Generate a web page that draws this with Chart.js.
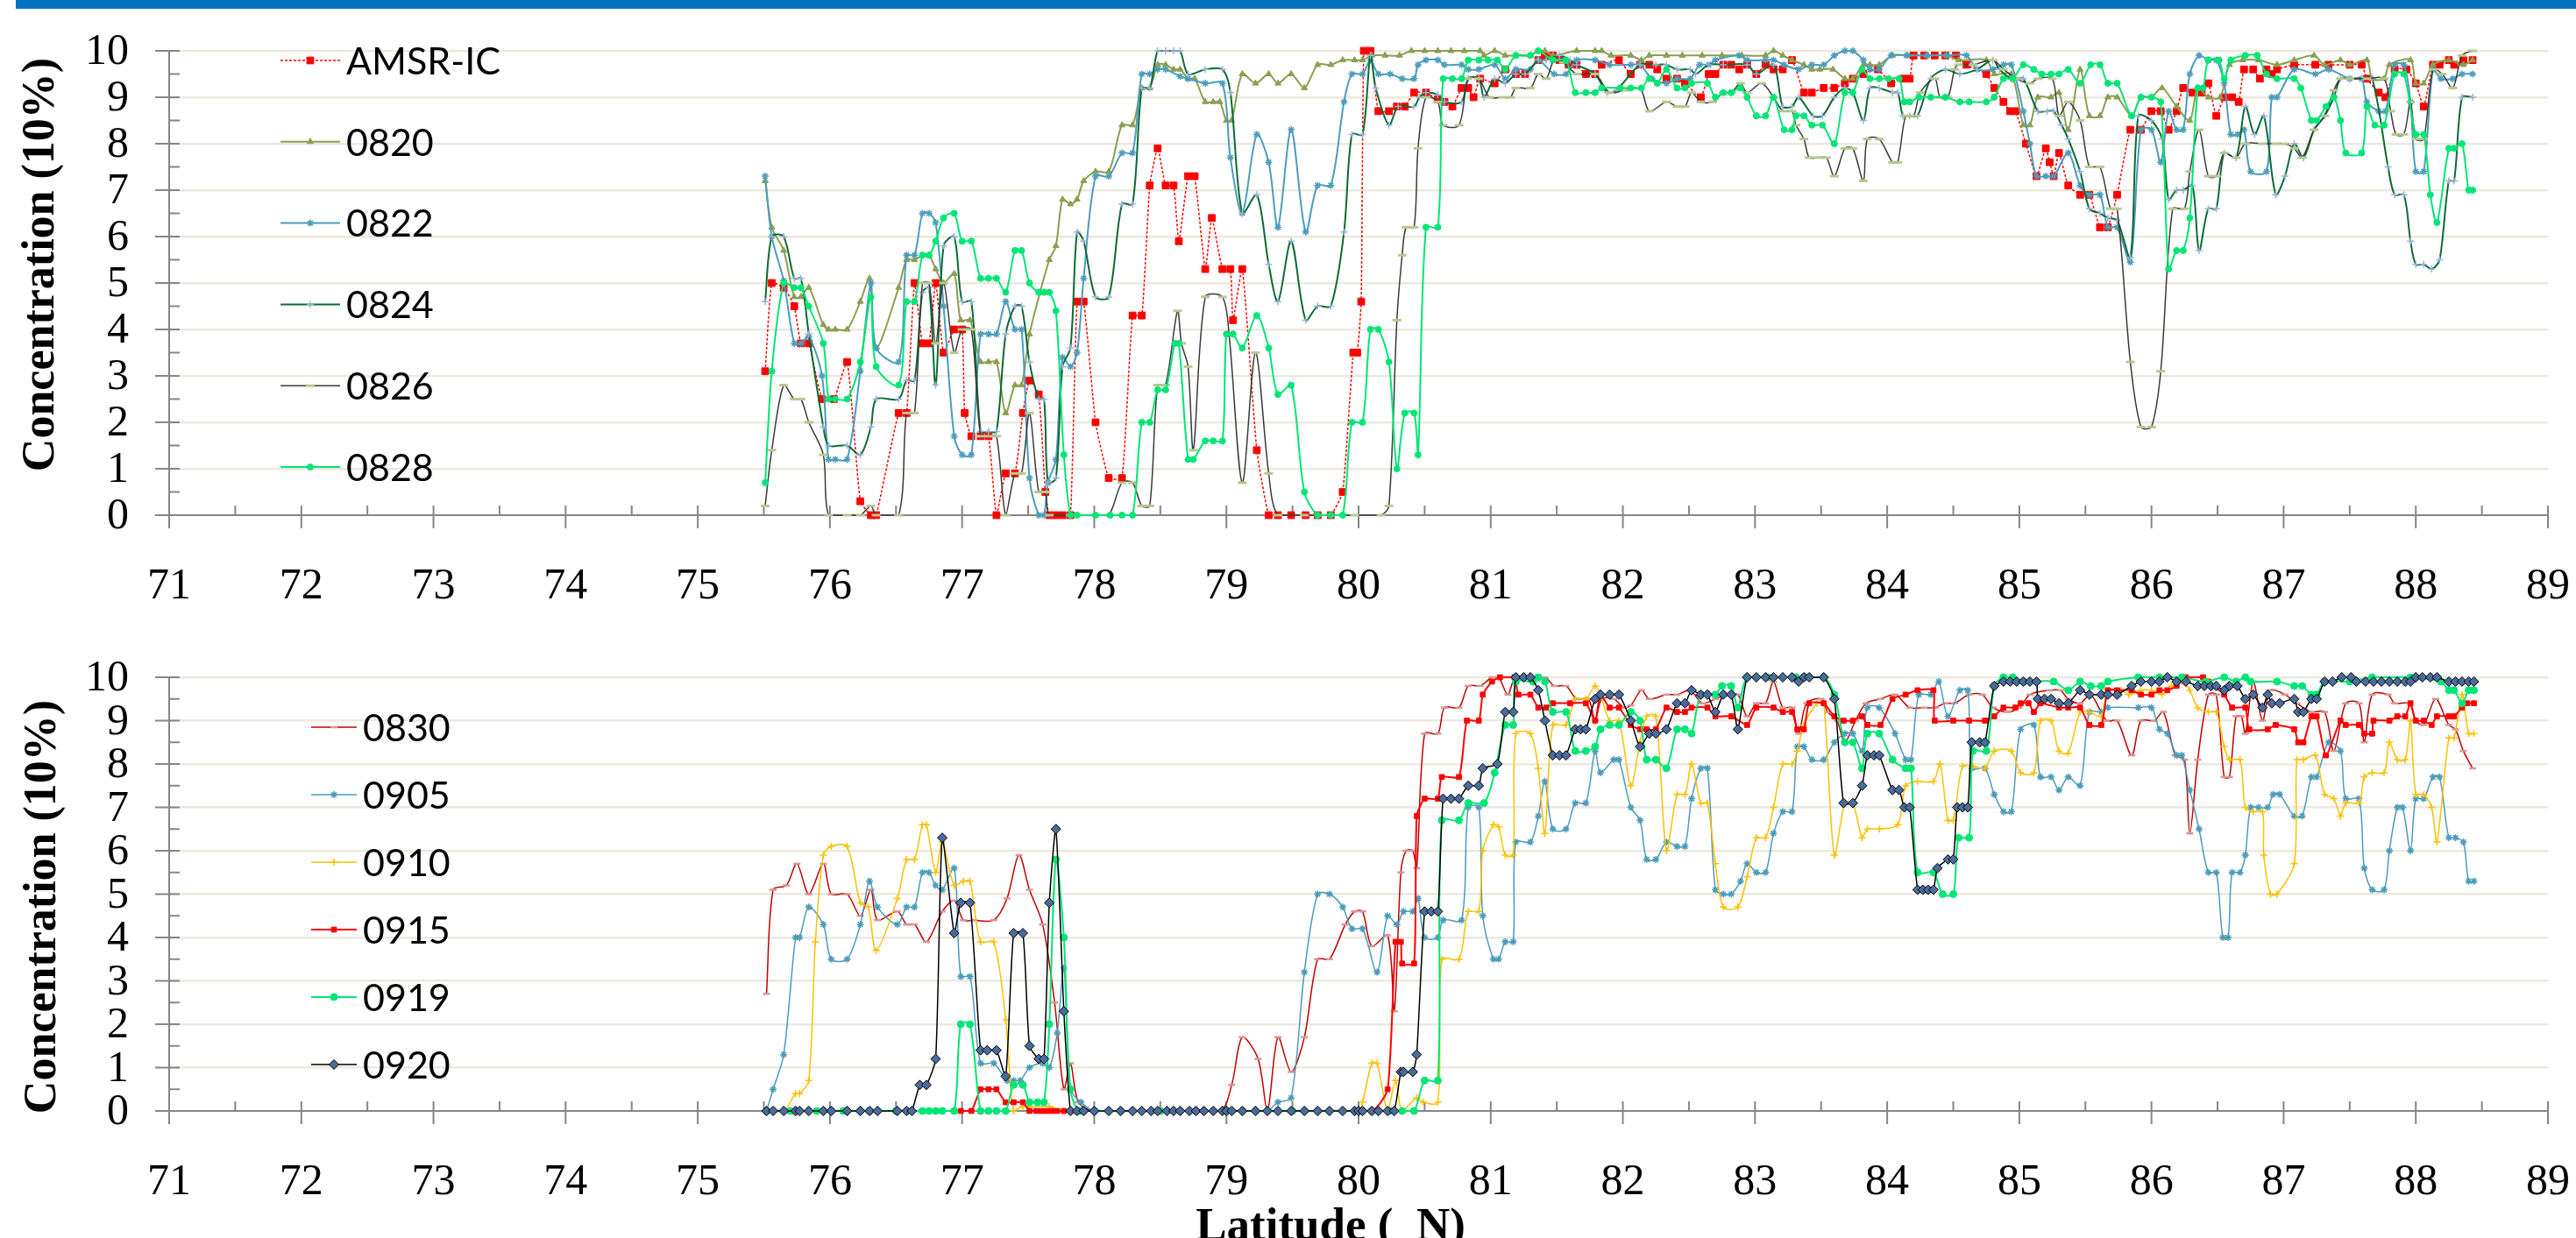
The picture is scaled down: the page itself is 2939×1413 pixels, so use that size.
<!DOCTYPE html>
<html>
<head>
<meta charset="utf-8">
<script src="https://cdn.jsdelivr.net/npm/chart.js@4.4.1/dist/chart.umd.min.js"></script>
<style>
html, body { margin: 0; padding: 0; background: #fff; }
body { width: 2939px; height: 1413px; position: relative; overflow: hidden; }
#bar { position: absolute; left: 18px; right: 0; top: 0; height: 10px; background: #0070C0; }
canvas { position: absolute; left: 0; }
#top { top: 0; }
#bottom { top: 720px; }
</style>
</head>
<body>
<div id="bar"></div>
<canvas id="top" width="2939" height="720"></canvas>
<canvas id="bottom" width="2939" height="693"></canvas>
<script>
// --- axis ticks ---
const latTicks = [71,72,73,74,75,76,77,78,79,80,81,82,83,84,85,86,87,88,89];
const concTicks = [0,1,2,3,4,5,6,7,8,9,10];

// --- top panel series: [latitude, concentration] ---
const topNames = ['AMSR-IC', '0820', '0822', '0824', '0826', '0828'];

const amsrIC = [[75.51,3.1],[75.56,5.0],[75.65,4.9],[75.73,4.5],[75.78,3.7],[75.84,3.7],[75.94,2.5],[76.03,2.5],[76.13,3.3],[76.23,0.3],[76.31,0],[76.35,0],[76.52,2.2],[76.58,2.2],[76.64,5.0],[76.70,3.7],[76.75,3.7],[76.80,5.0],[76.86,3.5],[76.94,4.0],[77.00,4.0],[77.02,2.2],[77.07,1.7],[77.14,1.7],[77.20,1.7],[77.26,0],[77.33,0.9],[77.40,0.9],[77.46,2.2],[77.51,2.9],[77.58,2.6],[77.63,0.5],[77.66,0],[77.71,0],[77.76,0],[77.82,0],[77.87,4.6],[77.92,4.6],[78.01,2.0],[78.11,0.8],[78.21,0.8],[78.29,4.3],[78.36,4.3],[78.42,7.1],[78.48,7.9],[78.54,7.1],[78.60,7.1],[78.64,5.9],[78.71,7.3],[78.76,7.3],[78.84,5.3],[78.89,6.4],[78.97,5.3],[79.03,5.3],[79.05,4.2],[79.12,5.3],[79.23,1.4],[79.32,0],[79.39,0],[79.49,0],[79.60,0],[79.69,0],[79.79,0],[79.88,0.5],[79.96,3.5],[79.99,3.5],[80.02,4.6],[80.04,10],[80.09,10],[80.15,8.7],[80.23,8.7],[80.29,8.8],[80.35,8.8],[80.42,9.1],[80.51,9.1],[80.60,8.95],[80.65,8.9],[80.71,8.8],[80.78,9.2],[80.83,9.2],[80.87,9.0],[80.92,9.4],[81.03,9.3],[81.11,9.6],[81.19,9.5],[81.26,9.5],[81.36,9.8],[81.41,9.9],[81.47,9.9],[81.52,9.8],[81.59,9.7],[81.65,9.7],[81.72,9.5],[81.79,9.5],[81.84,9.7],[81.97,9.8],[82.06,9.5],[82.13,9.7],[82.20,9.7],[82.26,9.6],[82.33,9.4],[82.41,9.4],[82.47,9.3],[82.59,9.0],[82.65,9.5],[82.70,9.5],[82.76,9.7],[82.82,9.7],[82.88,9.6],[82.94,9.7],[83.01,9.5],[83.08,9.7],[83.14,9.6],[83.21,9.6],[83.28,9.8],[83.37,9.1],[83.43,9.1],[83.52,9.2],[83.60,9.2],[83.68,9.3],[83.74,9.4],[83.82,9.5],[83.93,9.6],[84.03,9.3],[84.12,9.4],[84.17,9.4],[84.20,9.9],[84.28,9.9],[84.36,9.9],[84.44,9.9],[84.52,9.9],[84.60,9.7],[84.75,9.5],[84.81,9.2],[84.88,8.9],[84.93,8.7],[84.97,8.7],[85.05,8.0],[85.13,7.3],[85.20,7.9],[85.23,7.6],[85.26,7.3],[85.30,7.8],[85.37,7.1],[85.46,6.9],[85.53,6.9],[85.61,6.2],[85.67,6.2],[85.74,6.9],[85.84,8.3],[85.92,8.3],[86.00,8.7],[86.07,8.7],[86.13,8.3],[86.19,8.7],[86.24,9.2],[86.31,9.1],[86.38,9.1],[86.43,9.3],[86.49,8.6],[86.55,9.0],[86.61,9.0],[86.66,8.9],[86.70,9.6],[86.77,9.6],[86.82,9.4],[86.87,9.6],[86.91,9.5],[86.95,9.6],[87.08,9.7],[87.24,9.7],[87.34,9.7],[87.50,9.7],[87.59,9.7],[87.63,9.4],[87.72,9.1],[87.77,9.0],[87.84,9.6],[87.93,9.6],[88.00,9.3],[88.06,8.8],[88.13,9.7],[88.18,9.7],[88.25,9.8],[88.29,9.7],[88.36,9.8],[88.43,9.8]];

const s0820 = [[75.51,7.2],[75.56,6.2],[75.65,5.7],[75.73,4.7],[75.78,4.7],[75.84,4.9],[75.95,4.1],[75.99,4.0],[76.04,4.0],[76.13,4.0],[76.23,4.6],[76.30,5.1],[76.35,3.6],[76.52,4.9],[76.58,5.5],[76.64,5.5],[76.70,5.6],[76.75,5.6],[76.80,5.3],[76.86,5.0],[76.94,5.2],[76.99,4.2],[77.06,4.2],[77.14,3.3],[77.20,3.3],[77.26,3.3],[77.33,2.2],[77.40,2.8],[77.45,2.8],[77.51,3.9],[77.59,4.8],[77.66,5.5],[77.71,5.8],[77.76,6.8],[77.82,6.7],[77.87,6.8],[77.92,7.2],[78.01,7.4],[78.11,7.4],[78.21,8.4],[78.29,8.4],[78.36,9.2],[78.42,9.2],[78.48,9.7],[78.54,9.7],[78.60,9.6],[78.65,9.6],[78.71,9.4],[78.76,9.4],[78.84,8.9],[78.90,8.9],[78.95,8.9],[79.00,8.5],[79.04,8.5],[79.12,9.5],[79.22,9.3],[79.32,9.5],[79.39,9.3],[79.49,9.5],[79.59,9.2],[79.69,9.7],[79.79,9.7],[79.88,9.8],[79.97,9.8],[80.03,9.8],[80.10,9.9],[80.20,9.9],[80.31,9.9],[80.40,10],[80.50,10],[80.60,10],[80.70,10],[80.80,10],[80.92,10],[80.95,9.9],[81.03,10],[81.11,9.9],[81.19,9.9],[81.30,9.9],[81.36,10],[81.41,10],[81.47,9.9],[81.65,10],[81.79,10],[81.84,10],[81.91,9.9],[82.06,9.9],[82.14,9.8],[82.20,9.9],[82.33,9.9],[82.45,9.9],[82.60,9.9],[82.75,9.9],[82.90,9.9],[83.08,9.9],[83.14,10],[83.21,9.9],[83.28,9.8],[83.37,9.7],[83.43,9.6],[83.49,9.6],[83.59,9.6],[83.68,9.4],[83.74,9.4],[83.82,9.7],[83.87,9.7],[83.94,9.7],[84.04,9.9],[84.15,9.9],[84.30,9.9],[84.45,9.9],[84.54,9.8],[84.75,9.8],[84.81,9.5],[84.94,9.5],[85.03,8.4],[85.08,8.4],[85.14,9.0],[85.24,9.0],[85.30,9.1],[85.37,8.3],[85.46,9.6],[85.53,8.6],[85.61,8.6],[85.67,9.0],[85.74,9.0],[85.85,8.6],[85.92,9.0],[86.00,9.0],[86.08,9.2],[86.19,8.8],[86.29,8.5],[86.35,9.2],[86.43,9.0],[86.52,9.0],[86.59,9.7],[86.69,9.8],[86.81,9.8],[86.95,9.7],[87.08,9.8],[87.23,9.9],[87.31,9.7],[87.43,9.8],[87.50,9.7],[87.63,9.8],[87.67,9.4],[87.76,9.4],[87.80,9.7],[87.96,9.8],[88.00,9.3],[88.06,9.3],[88.13,9.7],[88.25,9.8],[88.36,9.7],[88.43,9.8]];

const s0822 = [[75.51,7.3],[75.56,6.0],[75.65,5.05],[75.73,3.7],[75.78,3.7],[75.84,3.85],[75.94,3.0],[75.99,1.2],[76.04,1.2],[76.13,1.2],[76.23,3.1],[76.31,5.0],[76.35,3.6],[76.52,3.3],[76.58,5.6],[76.64,5.6],[76.70,6.5],[76.75,6.5],[76.80,6.3],[76.86,4.5],[76.94,1.7],[77.00,1.3],[77.07,1.3],[77.14,3.9],[77.20,3.9],[77.26,3.9],[77.33,4.6],[77.40,4.0],[77.45,4.0],[77.51,0.8],[77.58,0],[77.62,0],[77.65,0.7],[77.71,1.2],[77.76,3.4],[77.82,3.2],[77.87,3.5],[77.92,5.1],[78.01,7.3],[78.11,7.3],[78.21,7.8],[78.29,7.8],[78.36,9.5],[78.42,9.5],[78.48,9.6],[78.54,9.6],[78.65,9.45],[78.71,9.4],[78.84,9.3],[78.97,9.3],[79.03,7.7],[79.12,6.5],[79.23,8.2],[79.32,7.6],[79.39,6.2],[79.49,8.3],[79.60,6.1],[79.69,7.1],[79.79,7.1],[79.89,8.9],[79.95,9.5],[80.03,9.5],[80.09,9.8],[80.15,9.5],[80.24,9.5],[80.33,9.4],[80.42,9.4],[80.45,9.7],[80.51,9.8],[80.60,9.8],[80.65,9.7],[80.78,9.7],[80.83,9.6],[80.91,9.6],[81.03,9.7],[81.11,9.4],[81.19,9.6],[81.30,9.6],[81.36,9.8],[81.48,9.5],[81.57,9.5],[81.65,9.8],[81.79,9.8],[81.90,9.7],[82.06,9.7],[82.13,9.7],[82.22,9.4],[82.33,9.3],[82.41,9.4],[82.51,9.4],[82.58,9.7],[82.65,9.7],[82.70,9.8],[82.88,9.9],[82.94,9.8],[83.08,9.8],[83.14,9.8],[83.22,9.7],[83.33,9.6],[83.43,9.7],[83.52,9.7],[83.60,9.9],[83.68,10],[83.74,10],[83.82,9.8],[83.87,9.6],[83.94,9.6],[84.03,9.9],[84.15,9.9],[84.30,9.9],[84.45,9.9],[84.60,9.9],[84.68,9.6],[84.80,9.6],[84.88,9.7],[84.94,9.7],[85.03,8.7],[85.08,8.0],[85.13,7.3],[85.20,7.3],[85.26,7.3],[85.37,7.8],[85.46,7.1],[85.53,6.9],[85.61,6.9],[85.67,6.2],[85.74,6.2],[85.84,5.45],[85.92,8.3],[86.00,8.3],[86.07,7.6],[86.13,8.7],[86.19,8.3],[86.24,8.3],[86.29,9.5],[86.36,9.9],[86.43,9.8],[86.49,9.8],[86.55,9.3],[86.60,8.2],[86.65,8.2],[86.70,8.3],[86.75,7.4],[86.87,7.4],[86.91,9.0],[86.95,9.0],[87.08,9.6],[87.24,9.5],[87.34,9.6],[87.50,9.4],[87.59,9.4],[87.63,8.9],[87.72,8.7],[87.77,8.7],[87.84,9.7],[87.91,9.7],[87.96,8.9],[88.00,7.4],[88.06,7.4],[88.13,9.6],[88.19,9.4],[88.28,9.4],[88.35,9.5],[88.43,9.5]];

const s0824 = [[75.51,4.6],[75.56,6.0],[75.65,6.0],[75.73,5.1],[75.78,5.1],[75.84,3.9],[75.95,1.9],[75.99,1.5],[76.13,1.5],[76.23,1.3],[76.31,1.9],[76.35,2.5],[76.52,2.5],[76.58,2.9],[76.64,2.9],[76.70,4.8],[76.75,4.9],[76.80,2.8],[76.86,5.8],[76.94,6.0],[77.00,4.6],[77.07,4.6],[77.14,1.8],[77.20,1.8],[77.26,1.8],[77.33,3.9],[77.40,4.5],[77.45,4.5],[77.51,3.3],[77.58,2.5],[77.62,2.5],[77.65,0.7],[77.71,0.8],[77.76,3.2],[77.82,3.6],[77.87,6.1],[77.92,5.9],[78.01,4.7],[78.11,4.7],[78.21,6.7],[78.29,6.7],[78.36,9.2],[78.42,9.2],[78.48,10],[78.54,10],[78.60,10],[78.65,10],[78.71,9.5],[78.84,9.6],[78.97,9.6],[79.03,9.1],[79.12,6.5],[79.23,6.9],[79.32,5.4],[79.39,4.6],[79.49,5.9],[79.60,4.2],[79.69,4.5],[79.79,4.5],[79.89,6.1],[79.95,8.2],[80.03,8.2],[80.09,9.9],[80.13,9.2],[80.23,8.4],[80.30,8.8],[80.42,8.8],[80.46,9.0],[80.51,9.1],[80.60,9.05],[80.65,8.9],[80.78,8.9],[80.83,9.4],[80.91,9.4],[80.95,9.0],[81.03,9.4],[81.11,9.3],[81.19,9.5],[81.26,9.5],[81.36,9.8],[81.42,9.8],[81.52,9.9],[81.60,9.8],[81.65,9.7],[81.79,9.5],[81.88,9.1],[81.95,9.15],[82.13,9.7],[82.25,9.7],[82.33,9.7],[82.41,9.6],[82.51,9.6],[82.55,9.5],[82.65,9.7],[82.76,9.7],[82.94,9.7],[83.01,9.5],[83.14,9.7],[83.21,8.8],[83.28,8.8],[83.33,9.0],[83.44,8.6],[83.51,8.6],[83.60,9.0],[83.68,9.2],[83.74,9.1],[83.82,8.5],[83.87,9.2],[83.94,9.2],[84.04,9.1],[84.08,9.1],[84.12,8.6],[84.17,8.6],[84.23,8.6],[84.33,9.4],[84.44,9.6],[84.55,9.5],[84.68,9.6],[84.80,9.8],[84.85,9.6],[84.94,9.4],[85.03,9.4],[85.14,8.7],[85.21,8.7],[85.26,8.7],[85.32,8.4],[85.37,8.1],[85.46,7.4],[85.53,6.6],[85.61,6.5],[85.67,6.4],[85.74,6.35],[85.84,5.55],[85.90,8.6],[86.00,8.5],[86.08,8.1],[86.13,6.8],[86.19,7.0],[86.24,7.0],[86.31,7.1],[86.36,5.7],[86.43,6.6],[86.49,6.6],[86.55,7.8],[86.64,7.7],[86.71,8.8],[86.78,8.2],[86.85,8.6],[86.94,6.9],[87.01,7.3],[87.08,8.0],[87.15,7.7],[87.23,8.3],[87.31,8.6],[87.38,9.0],[87.43,9.4],[87.50,9.4],[87.59,9.4],[87.67,9.4],[87.79,7.5],[87.84,6.9],[87.91,6.9],[87.96,5.9],[88.00,5.4],[88.06,5.4],[88.12,5.3],[88.18,5.5],[88.25,7.2],[88.29,7.2],[88.35,9.0],[88.43,9.0]];

const s0826 = [[75.51,0.2],[75.56,1.4],[75.65,2.8],[75.73,2.5],[75.78,2.5],[75.84,2.0],[75.95,1.3],[75.99,0],[76.13,0],[76.23,0],[76.31,0.2],[76.35,0],[76.52,0],[76.58,2.2],[76.64,2.2],[76.70,5.0],[76.75,5.0],[76.80,3.7],[76.86,5.0],[76.94,3.5],[77.00,4.0],[77.07,4.0],[77.14,1.7],[77.20,1.7],[77.26,1.7],[77.33,0],[77.40,0.9],[77.45,0.9],[77.51,2.2],[77.58,0.5],[77.63,0.5],[77.66,0],[77.82,0],[78.01,0],[78.11,0],[78.21,0.7],[78.29,0.7],[78.36,0.2],[78.42,0.2],[78.48,2.8],[78.54,2.8],[78.63,4.4],[78.66,3.7],[78.71,3.2],[78.75,1.4],[78.84,4.7],[78.97,4.7],[79.02,3.9],[79.12,0.7],[79.22,3.5],[79.32,0.9],[79.39,0],[79.59,0],[79.79,0],[79.97,0],[80.17,0],[80.23,0.2],[80.29,4.2],[80.33,5.6],[80.36,6.2],[80.42,6.2],[80.45,7.9],[80.51,9.0],[80.60,8.9],[80.64,8.4],[80.76,8.4],[80.83,9.4],[80.91,9.4],[80.99,9.0],[81.09,9.0],[81.15,9.0],[81.19,9.2],[81.30,9.2],[81.36,9.5],[81.42,9.4],[81.48,9.8],[81.55,9.75],[81.65,9.5],[81.79,9.5],[81.90,9.1],[82.01,9.15],[82.13,9.2],[82.20,8.7],[82.33,8.9],[82.41,8.8],[82.47,8.8],[82.52,9.1],[82.59,8.9],[82.68,8.9],[82.76,9.1],[82.82,9.1],[82.89,9.3],[82.94,9.1],[83.05,9.3],[83.14,9.0],[83.21,8.7],[83.28,8.7],[83.31,8.4],[83.37,8.1],[83.41,7.7],[83.48,7.7],[83.54,7.7],[83.60,7.3],[83.68,7.9],[83.74,7.9],[83.82,7.2],[83.85,8.1],[83.94,8.1],[84.04,7.6],[84.08,7.6],[84.14,8.6],[84.20,8.6],[84.25,9.1],[84.36,9.4],[84.40,9.0],[84.46,9.0],[84.51,9.6],[84.54,9.7],[84.65,9.7],[84.80,9.8],[84.88,9.6],[84.98,9.4],[85.08,9.3],[85.14,9.4],[85.25,9.4],[85.30,8.6],[85.37,8.9],[85.46,8.5],[85.53,7.5],[85.61,7.5],[85.69,6.6],[85.74,6.6],[85.84,3.3],[85.92,1.9],[86.00,1.9],[86.07,3.1],[86.16,6.6],[86.25,6.6],[86.29,7.4],[86.36,8.3],[86.43,7.3],[86.49,7.3],[86.55,7.8],[86.64,7.7],[86.71,8.0],[86.84,8.0],[86.94,8.0],[87.01,8.0],[87.08,7.9],[87.14,7.7],[87.23,8.3],[87.31,8.6],[87.38,9.15],[87.43,9.4],[87.50,9.4],[87.63,9.4],[87.76,9.4],[87.81,8.7],[87.85,8.2],[87.91,8.2],[87.96,8.9],[88.00,8.1],[88.06,8.1],[88.13,9.6],[88.20,9.5],[88.28,9.2],[88.35,9.9],[88.43,10]];

const s0828 = [[75.51,0.7],[75.56,3.1],[75.65,5.0],[75.73,4.9],[75.78,4.9],[75.84,4.5],[75.95,3.7],[75.99,2.5],[76.04,2.5],[76.13,2.5],[76.23,3.3],[76.31,4.7],[76.35,3.2],[76.52,2.8],[76.58,4.6],[76.64,4.6],[76.70,5.6],[76.75,5.6],[76.80,5.9],[76.86,6.4],[76.94,6.5],[77.00,5.9],[77.07,5.9],[77.14,5.1],[77.20,5.1],[77.26,5.1],[77.33,4.8],[77.40,5.7],[77.45,5.7],[77.51,5.0],[77.58,4.8],[77.62,4.8],[77.66,4.8],[77.71,4.4],[77.77,1.3],[77.82,0],[77.87,0],[78.01,0],[78.12,0],[78.21,0],[78.29,0],[78.36,2.0],[78.42,2.0],[78.48,2.7],[78.54,2.7],[78.61,3.7],[78.64,3.7],[78.71,1.2],[78.75,1.2],[78.84,1.6],[78.90,1.6],[78.97,1.6],[79.00,3.9],[79.05,3.9],[79.12,3.6],[79.23,4.3],[79.32,3.6],[79.39,2.6],[79.49,2.8],[79.59,0.5],[79.69,0],[79.79,0],[79.88,0],[79.95,2.0],[80.03,2.0],[80.09,4.0],[80.15,4.0],[80.23,3.3],[80.29,1.0],[80.35,2.2],[80.42,2.2],[80.45,1.3],[80.51,6.2],[80.60,6.2],[80.64,9.4],[80.71,9.4],[80.78,9.4],[80.83,9.8],[80.91,9.8],[80.98,9.8],[81.05,9.8],[81.11,9.6],[81.19,9.9],[81.30,9.9],[81.36,10],[81.47,9.8],[81.57,9.8],[81.64,9.1],[81.72,9.1],[81.79,9.1],[81.84,9.2],[81.98,9.2],[82.06,9.2],[82.14,9.2],[82.20,9.4],[82.26,9.3],[82.33,9.6],[82.41,9.2],[82.47,9.2],[82.52,9.3],[82.64,9.3],[82.70,9.0],[82.76,9.1],[82.82,9.1],[82.89,9.2],[82.94,9.0],[83.01,8.6],[83.08,8.6],[83.14,9.0],[83.22,8.3],[83.28,8.3],[83.31,8.6],[83.37,8.6],[83.43,8.4],[83.51,8.4],[83.60,8.0],[83.68,9.1],[83.74,9.1],[83.81,9.6],[83.87,9.4],[83.94,9.4],[84.01,9.4],[84.09,9.4],[84.13,8.9],[84.17,8.9],[84.24,9.0],[84.33,9.0],[84.44,9.0],[84.55,8.9],[84.62,8.9],[84.75,8.9],[84.81,9.0],[84.88,9.4],[84.95,9.4],[85.03,9.7],[85.11,9.6],[85.17,9.5],[85.24,9.5],[85.30,9.5],[85.37,9.6],[85.46,9.3],[85.54,9.7],[85.61,9.7],[85.67,9.3],[85.74,9.3],[85.85,8.6],[85.92,9.0],[86.00,9.0],[86.07,8.9],[86.13,5.3],[86.19,5.7],[86.24,5.7],[86.29,6.4],[86.35,9.2],[86.39,9.2],[86.43,9.8],[86.51,9.8],[86.55,9.4],[86.60,9.8],[86.71,9.9],[86.80,9.9],[86.87,9.5],[86.95,9.4],[87.08,9.4],[87.13,9.2],[87.21,8.5],[87.25,8.5],[87.32,8.8],[87.38,9.0],[87.43,8.5],[87.47,7.8],[87.59,7.8],[87.63,8.8],[87.69,8.4],[87.76,8.4],[87.84,9.5],[87.91,9.5],[88.00,8.2],[88.06,8.2],[88.11,6.9],[88.16,6.3],[88.25,7.9],[88.29,7.9],[88.35,8.0],[88.40,7.0],[88.43,7.0]];

// --- bottom panel series ---
const bottomNames = ['0830', '0905', '0910', '0915', '0919', '0920'];

const s0830 = [[75.52,2.7],[75.57,5.1],[75.67,5.2],[75.75,5.7],[75.84,5.0],[75.95,5.7],[76.01,5.0],[76.13,5.0],[76.23,4.5],[76.31,5.1],[76.36,4.4],[76.51,4.6],[76.58,4.3],[76.64,4.3],[76.73,3.9],[76.85,4.6],[76.94,4.85],[77.01,4.4],[77.09,4.4],[77.24,4.4],[77.34,4.9],[77.43,5.9],[77.51,5.1],[77.61,4.3],[77.70,2.5],[77.77,0.5],[77.82,1.1],[77.88,0.2],[78.00,0],[78.41,0],[78.95,0],[79.04,0.6],[79.12,1.7],[79.24,1.2],[79.31,0],[79.39,1.7],[79.49,0.9],[79.59,1.7],[79.69,3.5],[79.78,3.5],[79.90,4.3],[79.97,4.6],[80.03,4.6],[80.10,3.8],[80.22,4.05],[80.27,2.3],[80.32,5.5],[80.36,6.0],[80.41,6.0],[80.44,5.6],[80.50,8.7],[80.60,8.7],[80.65,9.3],[80.76,9.3],[80.83,9.8],[80.92,9.8],[81.01,10],[81.06,10],[81.13,9.6],[81.19,10],[81.41,10],[81.48,9.8],[81.57,9.8],[81.65,9.5],[81.74,9.5],[81.79,9.0],[81.84,9.5],[81.93,9.5],[82.01,9.3],[82.06,9.35],[82.14,9.7],[82.20,9.5],[82.33,9.6],[82.41,9.6],[82.51,9.7],[82.60,9.4],[82.70,9.5],[82.79,9.6],[82.87,9.6],[82.94,9.1],[83.01,9.4],[83.08,9.4],[83.14,9.9],[83.21,9.3],[83.28,9.3],[83.33,8.7],[83.39,9.4],[83.50,9.5],[83.55,9.2],[83.62,9.0],[83.68,8.5],[83.76,9.0],[83.84,9.4],[83.95,9.5],[84.06,9.6],[84.17,9.3],[84.28,9.3],[84.36,9.3],[84.44,9.4],[84.51,9.4],[84.62,9.6],[84.72,9.6],[84.80,9.3],[84.91,9.2],[85.00,9.3],[85.08,9.6],[85.23,9.7],[85.31,9.7],[85.37,9.5],[85.46,9.4],[85.54,9.6],[85.66,9.0],[85.74,9.0],[85.85,8.2],[85.92,9.0],[86.02,9.0],[86.09,9.2],[86.18,8.2],[86.25,8.1],[86.29,6.4],[86.35,8.1],[86.43,9.6],[86.49,9.6],[86.55,7.7],[86.59,7.7],[86.64,9.1],[86.68,9.1],[86.71,8.7],[86.77,9.9],[86.84,9.0],[86.90,9.7],[87.01,9.6],[87.10,9.4],[87.21,9.2],[87.31,9.2],[87.38,8.3],[87.47,9.4],[87.57,9.4],[87.61,8.5],[87.67,9.6],[87.79,9.6],[87.84,9.4],[87.95,9.4],[88.00,9.0],[88.06,8.9],[88.15,9.5],[88.25,8.9],[88.30,8.8],[88.36,8.3],[88.43,7.9]];

const s0905 = [[75.52,0],[75.57,0.5],[75.65,1.3],[75.74,4.0],[75.77,4.0],[75.84,4.7],[75.95,4.3],[76.01,3.5],[76.13,3.5],[76.23,4.3],[76.30,5.3],[76.36,4.7],[76.51,4.3],[76.58,4.7],[76.64,4.7],[76.70,5.5],[76.75,5.5],[76.80,5.2],[76.85,5.1],[76.94,5.6],[76.99,3.1],[77.06,3.1],[77.14,1.1],[77.24,1.1],[77.34,0.7],[77.39,0.7],[77.44,0.7],[77.51,1.0],[77.61,1.1],[77.66,1.0],[77.72,1.8],[77.77,3.3],[77.82,0.5],[77.90,0.2],[78.00,0],[78.50,0],[78.97,0],[79.22,0],[79.31,0],[79.39,0.2],[79.49,0.3],[79.59,3.2],[79.69,5.0],[79.78,5.0],[79.88,4.7],[79.95,4.2],[80.03,4.2],[80.14,3.2],[80.22,4.5],[80.29,4.3],[80.34,4.6],[80.41,4.6],[80.45,4.9],[80.50,4.0],[80.60,4.0],[80.64,4.4],[80.78,4.4],[80.83,7.0],[80.91,7.0],[80.94,4.5],[81.02,3.5],[81.06,3.5],[81.11,3.9],[81.17,3.9],[81.19,6.2],[81.30,6.2],[81.36,6.8],[81.41,7.6],[81.47,6.5],[81.57,6.5],[81.64,7.1],[81.72,7.1],[81.79,8.3],[81.83,7.8],[81.93,8.1],[81.97,8.1],[82.06,7.0],[82.13,6.7],[82.18,5.8],[82.25,5.8],[82.33,6.2],[82.41,6.1],[82.47,6.1],[82.52,7.2],[82.59,7.9],[82.64,7.9],[82.70,5.1],[82.76,5.0],[82.82,5.0],[82.89,5.3],[82.94,5.7],[83.01,5.5],[83.08,5.5],[83.14,6.4],[83.21,6.9],[83.28,6.9],[83.32,8.4],[83.37,8.4],[83.43,8.1],[83.52,8.1],[83.60,8.5],[83.68,8.7],[83.74,8.7],[83.81,8.3],[83.85,9.3],[83.94,9.3],[84.06,8.7],[84.14,8.1],[84.18,8.1],[84.24,9.6],[84.33,9.6],[84.39,9.9],[84.46,9.1],[84.55,9.7],[84.61,9.7],[84.64,7.9],[84.74,7.9],[84.81,7.3],[84.88,6.9],[84.94,6.9],[85.01,8.8],[85.11,8.9],[85.16,7.7],[85.24,7.7],[85.30,7.4],[85.37,7.7],[85.46,7.5],[85.53,9.2],[85.62,9.2],[85.67,9.3],[85.90,9.3],[86.00,9.3],[86.06,8.8],[86.12,8.7],[86.19,8.2],[86.23,8.2],[86.29,7.4],[86.36,6.5],[86.43,5.5],[86.49,5.5],[86.54,4.0],[86.58,4.0],[86.61,5.5],[86.67,5.5],[86.71,5.9],[86.75,7.0],[86.81,7.0],[86.88,7.0],[86.92,7.3],[86.97,7.3],[87.08,6.8],[87.14,6.8],[87.21,7.7],[87.25,7.7],[87.34,8.5],[87.43,8.3],[87.47,7.2],[87.57,7.2],[87.61,5.6],[87.67,5.1],[87.76,5.1],[87.80,6.0],[87.86,7.0],[87.90,7.0],[87.96,6.0],[88.00,7.2],[88.06,7.2],[88.13,7.7],[88.18,7.7],[88.25,6.3],[88.30,6.3],[88.36,6.2],[88.40,5.3],[88.44,5.3]];

const s0910 = [[75.52,0],[75.65,0],[75.74,0.4],[75.77,0.4],[75.84,0.7],[75.89,3.9],[75.95,5.9],[76.01,6.1],[76.13,6.1],[76.23,4.8],[76.29,4.7],[76.35,3.7],[76.51,4.9],[76.58,5.8],[76.64,5.8],[76.70,6.6],[76.73,6.6],[76.80,5.5],[76.85,6.2],[76.94,5.2],[77.01,5.3],[77.06,5.3],[77.14,3.9],[77.24,3.9],[77.33,2.1],[77.39,0],[77.46,0.1],[77.51,0.1],[77.66,0.1],[77.77,0],[78.50,0],[79.00,0],[79.50,0],[80.00,0],[80.03,0.2],[80.10,1.1],[80.14,1.1],[80.22,0],[80.28,0.7],[80.33,0],[80.44,0.3],[80.49,0.2],[80.60,0.2],[80.63,3.5],[80.76,3.5],[80.83,4.6],[80.91,4.6],[80.94,6.0],[81.02,6.6],[81.06,6.55],[81.11,5.9],[81.17,5.9],[81.19,8.7],[81.30,8.7],[81.36,7.9],[81.41,6.4],[81.47,8.9],[81.57,8.9],[81.64,9.5],[81.72,9.5],[81.79,9.8],[81.83,9.6],[81.90,9.0],[81.97,9.0],[82.06,7.5],[82.13,8.5],[82.18,9.1],[82.25,9.1],[82.33,6.0],[82.41,7.3],[82.47,7.3],[82.52,8.0],[82.59,7.1],[82.64,7.1],[82.70,5.7],[82.76,4.7],[82.87,4.7],[82.94,5.4],[83.01,6.3],[83.08,6.3],[83.14,7.0],[83.21,8.0],[83.28,8.0],[83.32,8.3],[83.37,8.9],[83.47,9.4],[83.52,9.4],[83.60,5.9],[83.68,7.1],[83.74,7.1],[83.81,6.3],[83.85,6.5],[83.94,6.5],[84.08,6.6],[84.14,7.5],[84.23,7.6],[84.35,7.6],[84.40,8.0],[84.46,6.7],[84.50,6.7],[84.57,7.95],[84.65,7.95],[84.74,7.9],[84.81,8.3],[84.94,8.3],[85.01,7.8],[85.11,7.8],[85.16,9.0],[85.24,9.0],[85.30,8.3],[85.37,8.25],[85.46,9.2],[85.53,9.2],[85.62,9.1],[85.67,9.7],[85.77,9.7],[85.83,9.6],[85.92,9.7],[86.00,9.7],[86.08,9.6],[86.15,9.8],[86.23,9.9],[86.29,9.7],[86.35,9.3],[86.43,9.2],[86.49,9.2],[86.55,8.4],[86.59,8.1],[86.67,8.1],[86.71,7.0],[86.77,6.9],[86.84,6.9],[86.85,5.9],[86.90,5.0],[86.95,5.0],[87.08,5.7],[87.10,8.1],[87.15,8.1],[87.24,8.2],[87.31,7.3],[87.38,7.2],[87.43,6.8],[87.47,7.1],[87.57,7.1],[87.61,7.7],[87.67,7.8],[87.76,7.8],[87.80,8.5],[87.86,8.1],[87.92,8.1],[87.96,9.0],[88.00,7.3],[88.06,7.3],[88.12,7.0],[88.16,6.2],[88.25,8.6],[88.29,8.6],[88.35,9.6],[88.40,8.7],[88.44,8.7]];

const s0915 = [[75.52,0],[75.70,0],[75.90,0],[76.10,0],[76.30,0],[76.50,0],[76.70,0],[76.85,0],[76.99,0],[77.07,0],[77.14,0.5],[77.20,0.5],[77.26,0.5],[77.33,0.2],[77.39,0.2],[77.46,0.2],[77.51,0],[77.56,0],[77.60,0],[77.64,0],[77.68,0],[77.72,0],[77.77,0],[78.00,0],[78.50,0],[79.00,0],[79.50,0],[80.10,0],[80.22,0.5],[80.28,3.9],[80.32,3.9],[80.33,3.4],[80.42,3.4],[80.44,6.8],[80.50,7.2],[80.60,7.2],[80.63,7.7],[80.76,7.7],[80.82,9.0],[80.91,9.0],[80.94,9.6],[81.01,9.9],[81.07,10],[81.18,10],[81.21,9.6],[81.30,9.6],[81.36,9.3],[81.42,9.3],[81.47,9.4],[81.60,9.4],[81.72,9.4],[81.79,9.0],[81.83,9.6],[81.90,9.3],[81.97,9.3],[82.06,8.9],[82.13,8.8],[82.18,8.8],[82.25,8.8],[82.33,9.3],[82.41,9.2],[82.47,9.2],[82.52,9.3],[82.64,9.3],[82.70,9.1],[82.82,9.1],[82.94,8.9],[83.01,9.3],[83.14,9.3],[83.21,9.2],[83.28,9.2],[83.32,8.8],[83.37,8.8],[83.41,9.4],[83.52,9.4],[83.60,9.1],[83.67,9.0],[83.74,9.0],[83.81,9.1],[83.85,8.9],[83.95,8.9],[84.04,9.5],[84.14,9.6],[84.23,9.7],[84.35,9.7],[84.36,9.0],[84.50,9.0],[84.62,9.0],[84.74,9.0],[84.81,9.1],[84.88,9.3],[84.97,9.3],[85.01,9.4],[85.07,9.4],[85.11,9.2],[85.16,9.4],[85.30,9.3],[85.37,9.3],[85.46,9.3],[85.53,8.9],[85.62,8.9],[85.67,9.7],[85.74,9.7],[85.85,9.7],[85.92,9.6],[86.00,9.6],[86.06,9.7],[86.12,9.7],[86.19,9.8],[86.26,10],[86.39,10],[86.43,9.9],[86.55,9.6],[86.61,9.3],[86.71,9.3],[86.74,8.8],[86.88,8.8],[86.94,8.9],[87.08,8.8],[87.11,8.5],[87.15,8.5],[87.21,9.1],[87.25,9.1],[87.32,8.2],[87.43,9.0],[87.47,8.9],[87.57,8.9],[87.61,8.7],[87.67,8.7],[87.68,9.0],[87.80,9.0],[87.86,9.1],[87.92,9.1],[87.96,9.4],[88.00,9.0],[88.06,9.0],[88.12,8.9],[88.16,9.1],[88.25,9.1],[88.29,9.1],[88.35,9.3],[88.39,9.4],[88.44,9.4]];

const s0919 = [[75.52,0],[75.70,0],[75.90,0],[76.10,0],[76.30,0],[76.50,0],[76.70,0],[76.75,0],[76.80,0],[76.85,0],[76.94,0],[76.99,2.0],[77.06,2.0],[77.14,0],[77.20,0],[77.26,0],[77.33,0],[77.39,0.6],[77.46,0.6],[77.51,0.2],[77.57,0.2],[77.62,0.2],[77.66,2.0],[77.71,5.8],[77.77,4.0],[77.82,0.5],[77.90,0],[78.50,0],[79.00,0],[79.50,0],[80.00,0],[80.24,0],[80.33,0],[80.42,0],[80.50,0.7],[80.60,0.7],[80.63,6.7],[80.76,6.7],[80.83,7.1],[80.95,7.1],[81.03,7.8],[81.11,8.9],[81.17,8.9],[81.19,9.9],[81.32,9.9],[81.36,10],[81.41,9.9],[81.47,9.2],[81.57,9.2],[81.64,8.3],[81.72,8.3],[81.79,8.4],[81.83,8.8],[81.90,8.9],[81.97,8.9],[82.06,9.2],[82.13,9.0],[82.18,8.1],[82.25,8.1],[82.33,7.9],[82.41,8.8],[82.47,8.8],[82.52,8.7],[82.59,9.6],[82.70,9.6],[82.75,9.8],[82.82,9.8],[82.87,9.3],[82.94,10],[83.10,10],[83.31,10],[83.37,10],[83.52,10],[83.60,9.6],[83.68,8.5],[83.74,8.5],[83.81,7.9],[83.85,8.7],[83.94,8.7],[84.04,8.1],[84.14,7.9],[84.18,7.9],[84.23,5.5],[84.35,5.5],[84.42,5.0],[84.50,5.0],[84.54,6.3],[84.62,6.3],[84.65,8.3],[84.75,8.3],[84.81,9.8],[84.88,10],[84.95,10],[85.03,9.9],[85.26,9.9],[85.37,9.7],[85.46,9.9],[85.54,9.8],[85.62,9.8],[85.67,9.9],[85.90,10],[86.06,10],[86.23,10],[86.41,9.9],[86.55,10],[86.64,9.9],[86.71,10],[86.75,9.9],[86.95,9.9],[87.08,9.8],[87.14,9.8],[87.21,9.6],[87.25,9.6],[87.31,9.9],[87.50,9.9],[87.67,10],[87.96,10],[88.19,9.9],[88.25,9.7],[88.29,9.7],[88.35,9.4],[88.40,9.7],[88.44,9.7]];

const s0920 = [[75.52,0],[75.57,0],[75.65,0],[75.74,0],[75.77,0],[75.84,0],[75.95,0],[76.01,0],[76.13,0],[76.23,0],[76.30,0],[76.36,0],[76.51,0],[76.58,0],[76.62,0],[76.68,0.6],[76.73,0.6],[76.80,1.2],[76.85,6.3],[76.94,4.1],[76.99,4.8],[77.06,4.8],[77.14,1.4],[77.19,1.4],[77.26,1.4],[77.33,0.8],[77.39,4.1],[77.46,4.1],[77.51,1.5],[77.58,1.2],[77.62,1.2],[77.66,4.8],[77.71,6.5],[77.77,2.3],[77.82,0],[77.87,0],[77.92,0],[78.00,0],[78.11,0],[78.20,0],[78.29,0],[78.36,0],[78.43,0],[78.48,0],[78.55,0],[78.60,0],[78.65,0],[78.72,0],[78.77,0],[78.83,0],[78.90,0],[78.97,0],[79.00,0],[79.04,0],[79.12,0],[79.22,0],[79.31,0],[79.39,0],[79.49,0],[79.59,0],[79.69,0],[79.78,0],[79.88,0],[79.97,0],[80.00,0],[80.03,0],[80.10,0],[80.15,0],[80.22,0],[80.27,0],[80.32,0.9],[80.34,0.9],[80.41,0.9],[80.44,1.3],[80.50,4.6],[80.55,4.6],[80.60,4.6],[80.64,7.2],[80.70,7.2],[80.76,7.2],[80.83,7.5],[80.91,7.5],[80.94,7.9],[81.05,8.0],[81.11,9.2],[81.17,9.2],[81.19,10],[81.25,10],[81.30,10],[81.36,9.7],[81.41,9.0],[81.47,8.2],[81.52,8.2],[81.57,8.2],[81.64,8.8],[81.68,8.8],[81.72,8.8],[81.79,9.5],[81.83,9.6],[81.90,9.6],[81.97,9.6],[82.06,9.0],[82.13,8.4],[82.20,8.7],[82.25,8.7],[82.33,8.8],[82.41,9.4],[82.47,9.4],[82.52,9.7],[82.59,9.6],[82.64,9.6],[82.70,9.2],[82.76,9.6],[82.82,9.6],[82.87,8.8],[82.94,10],[83.01,10],[83.08,10],[83.14,10],[83.21,10],[83.28,10],[83.33,9.9],[83.37,10],[83.41,10],[83.52,10],[83.60,9.5],[83.67,7.1],[83.74,7.1],[83.81,7.5],[83.85,8.2],[83.90,8.2],[83.94,8.2],[84.04,7.4],[84.09,7.4],[84.13,7.0],[84.17,7.0],[84.23,5.1],[84.27,5.1],[84.31,5.1],[84.35,5.1],[84.38,5.6],[84.46,5.8],[84.50,5.8],[84.53,7.0],[84.57,7.0],[84.61,7.0],[84.64,8.5],[84.70,8.5],[84.74,8.5],[84.81,9.8],[84.88,9.9],[84.93,9.9],[84.98,9.9],[85.03,9.9],[85.08,9.9],[85.13,9.9],[85.14,9.5],[85.19,9.5],[85.24,9.5],[85.30,9.4],[85.37,9.4],[85.46,9.7],[85.53,9.6],[85.62,9.6],[85.67,9.6],[85.74,9.6],[85.85,9.8],[85.92,9.9],[86.00,9.9],[86.06,9.9],[86.12,10],[86.19,9.9],[86.26,9.9],[86.35,9.8],[86.40,9.8],[86.45,9.8],[86.49,9.8],[86.55,9.7],[86.59,9.8],[86.65,9.8],[86.71,9.5],[86.77,9.6],[86.84,9.3],[86.88,9.6],[86.91,9.4],[86.97,9.4],[87.08,9.5],[87.11,9.2],[87.15,9.2],[87.21,9.5],[87.25,9.5],[87.31,9.9],[87.37,9.9],[87.44,10],[87.51,10],[87.55,9.9],[87.62,9.9],[87.68,9.9],[87.74,9.9],[87.80,9.9],[87.86,9.9],[87.92,9.9],[87.96,9.9],[88.00,10],[88.05,10],[88.11,10],[88.16,10],[88.25,9.9],[88.30,9.9],[88.35,9.9],[88.40,9.9],[88.44,9.9]];

// --- styles (Excel-like) ---
const topStyles = [
  { line: '#FF0000', width: 1.5, dash: [3, 2], tension: 0.15, marker: 'rect', radius: 5.5, fill: '#FF0000', stroke: '#FF0000', mw: 1 },
  { line: '#8A9F50', width: 2, tension: 0.3, marker: 'triangle', radius: 4, fill: '#8A9F50', stroke: '#8A9F50', mw: 1 },
  { line: '#4B9DBB', width: 2, tension: 0.3, marker: 'star', radius: 4, fill: '#4B9DBB', stroke: '#4B9DBB', mw: 1.5 },
  { line: '#0B6B36', width: 2, tension: 0.3, marker: 'cross', radius: 4, fill: '#9DB3D9', stroke: '#9DB3D9', mw: 1.5 },
  { line: '#3A3A3A', width: 1.5, tension: 0.3, marker: 'line', radius: 5, fill: '#B5C98E', stroke: '#B5C98E', mw: 3 },
  { line: '#00E676', width: 2, tension: 0.3, marker: 'circle', radius: 3.5, fill: '#00E676', stroke: '#00E676', mw: 1 }
];
const bottomStyles = [
  { line: '#C00000', width: 1.5, tension: 0.3, marker: 'line', radius: 4, fill: '#D99694', stroke: '#D99694', mw: 2.5 },
  { line: '#4A9BBA', width: 1.5, tension: 0.3, marker: 'star', radius: 4, fill: '#4A9BBA', stroke: '#4A9BBA', mw: 1.5 },
  { line: '#FFC000', width: 1.5, tension: 0.3, marker: 'cross', radius: 4, fill: '#FFC000', stroke: '#FFC000', mw: 1.5 },
  { line: '#FF0000', width: 2, tension: 0.2, marker: 'rect', radius: 4, fill: '#FF0000', stroke: '#FF0000', mw: 1 },
  { line: '#00E676', width: 2, tension: 0.3, marker: 'circle', radius: 4, fill: '#00E676', stroke: '#00E676', mw: 1 },
  { line: '#000000', width: 1.5, tension: 0.2, marker: 'rectRot', radius: 5.5, fill: '#4A6C9B', stroke: '#000000', mw: 1 }
];

const AXIS = '#868686';
const GRID = '#ECE9DD';

// draws Excel style axes, tick labels, titles and the in-plot legend
function excelPlugin(opt) {
  return {
    id: 'excelAxes',
    beforeDatasetsDraw(chart) {
      const ctx = chart.ctx, xs = chart.scales.x, ys = chart.scales.y;
      const left = xs.getPixelForValue(latTicks[0]), right = xs.getPixelForValue(latTicks[latTicks.length - 1]);
      const bottom = ys.getPixelForValue(0), top = ys.getPixelForValue(10);
      ctx.save();
      ctx.strokeStyle = AXIS;
      ctx.lineWidth = 2;
      ctx.beginPath();
      ctx.moveTo(left, top); ctx.lineTo(left, bottom);
      ctx.moveTo(left, bottom); ctx.lineTo(right, bottom);
      concTicks.forEach(v => {
        const y = ys.getPixelForValue(v);
        ctx.moveTo(left - 16, y); ctx.lineTo(left + 12, y);
        if (v < 10) {
          const ym = ys.getPixelForValue(v + 0.5);
          ctx.moveTo(left, ym); ctx.lineTo(left + 12, ym);
        }
      });
      latTicks.forEach((v, i) => {
        const x = xs.getPixelForValue(v);
        ctx.moveTo(x, bottom - 11); ctx.lineTo(x, bottom + 15);
        if (i < latTicks.length - 1) {
          const xm = xs.getPixelForValue(v + 0.5);
          ctx.moveTo(xm, bottom - 11); ctx.lineTo(xm, bottom);
        }
      });
      ctx.stroke();
      ctx.restore();
    },
    afterDraw(chart) {
      const ctx = chart.ctx, xs = chart.scales.x, ys = chart.scales.y;
      const left = xs.getPixelForValue(latTicks[0]);
      const bottom = ys.getPixelForValue(0);
      ctx.save();
      ctx.fillStyle = '#000';
      ctx.font = '50px "Liberation Serif", "Times New Roman", serif';
      ctx.textAlign = 'right';
      ctx.textBaseline = 'middle';
      concTicks.forEach(v => ctx.fillText(String(v), left - 46, ys.getPixelForValue(v) + 2));
      ctx.textAlign = 'center';
      latTicks.forEach(v => ctx.fillText(String(v), xs.getPixelForValue(v), bottom + 82));

      // y title
      ctx.save();
      ctx.translate(opt.yTitleX, opt.yTitleY);
      ctx.rotate(-Math.PI / 2);
      ctx.font = 'bold 52px "Liberation Serif", "Times New Roman", serif';
      ctx.textAlign = 'center';
      ctx.textBaseline = 'middle';
      ctx.fillText('Concentration (10%)', 0, 0);
      ctx.restore();

      if (opt.xTitle) {
        ctx.font = 'bold 53px "Liberation Serif", "Times New Roman", serif';
        ctx.textAlign = 'center';
        ctx.textBaseline = 'alphabetic';
        ctx.fillText(opt.xTitle, opt.xTitleX, opt.xTitleY);
      }

      // legend
      const drawPoint = Chart.helpers && Chart.helpers.drawPoint;
      chart.data.datasets.forEach((ds, i) => {
        const y = opt.legY0 + i * opt.legDy;
        ctx.save();
        ctx.strokeStyle = ds.borderColor;
        ctx.lineWidth = ds.borderWidth;
        ctx.setLineDash(ds.borderDash || []);
        ctx.beginPath();
        ctx.moveTo(opt.legX1, y); ctx.lineTo(opt.legX2, y);
        ctx.stroke();
        ctx.setLineDash([]);
        if (drawPoint) {
          ctx.fillStyle = ds.pointBackgroundColor;
          ctx.strokeStyle = ds.pointBorderColor;
          ctx.lineWidth = ds.pointBorderWidth;
          drawPoint(ctx, { pointStyle: ds.pointStyle, radius: ds.pointRadius, rotation: 0, borderWidth: ds.pointBorderWidth }, (opt.legX1 + opt.legX2) / 2, y);
        }
        ctx.restore();
        ctx.fillStyle = '#000';
        ctx.font = '43px Lato, "Open Sans", sans-serif';
        ctx.textAlign = 'left';
        ctx.textBaseline = 'middle';
        ctx.fillText(ds.label, opt.legX2 + 7, y + 2);
      });
      ctx.restore();
    }
  };
}

function makeChart(id, names, datas, styles, pad, opt) {
  const datasets = names.map((name, i) => {
    const st = styles[i];
    return {
      label: name,
      data: datas[i].map(p => ({ x: p[0], y: p[1] })),
      borderColor: st.line,
      borderWidth: st.width,
      borderDash: st.dash || [],
      tension: st.tension,
      pointStyle: st.marker,
      pointRadius: st.radius,
      pointBackgroundColor: st.fill,
      pointBorderColor: st.stroke,
      pointBorderWidth: st.mw,
      fill: false,
      order: -i,
      clip: 14
    };
  });
  return new Chart(document.getElementById(id), {
    type: 'line',
    data: { datasets },
    options: {
      responsive: false,
      animation: false,
      devicePixelRatio: 1,
      events: [],
      layout: { padding: pad },
      plugins: { legend: { display: false }, tooltip: { enabled: false } },
      scales: {
        x: {
          type: 'linear', min: 71, max: 89,
          ticks: { display: false, stepSize: 1 },
          grid: { display: false },
          border: { display: false },
          afterFit(s) { s.height = 0; }
        },
        y: {
          min: 0, max: 10,
          ticks: { display: false, stepSize: 1 },
          grid: {
            color: c => (c.tick && c.tick.value === 0) ? 'rgba(0,0,0,0)' : GRID,
            lineWidth: 2.5, drawTicks: false
          },
          border: { display: false },
          afterFit(s) { s.width = 0; }
        }
      }
    },
    plugins: [excelPlugin(opt)]
  });
}

makeChart('top', topNames, [amsrIC, s0820, s0822, s0824, s0826, s0828], topStyles,
  { left: 193, right: 32, top: 58, bottom: 132 },
  { yTitleX: 48, yTitleY: 302, legY0: 69, legDy: 92.8, legX1: 320, legX2: 388 });

makeChart('bottom', bottomNames, [s0830, s0905, s0910, s0915, s0919, s0920], bottomStyles,
  { left: 193, right: 32, top: 53, bottom: 145 },
  { yTitleX: 50, yTitleY: 315, legY0: 110, legDy: 77, legX1: 355, legX2: 407,
    xTitle: 'Latitude (  N)', xTitleX: 1518, xTitleY: 695 });
</script>
</body>
</html>
